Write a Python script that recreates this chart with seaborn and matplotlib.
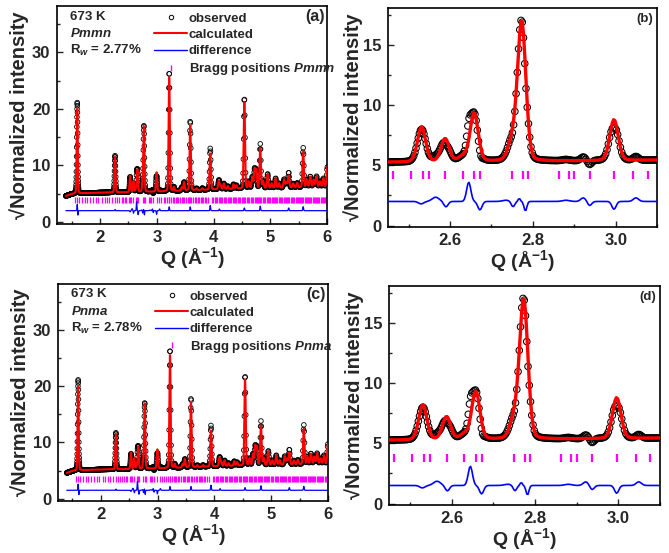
import numpy as np
import matplotlib
matplotlib.use("Agg")
import matplotlib.pyplot as plt
import seaborn as sns
from matplotlib.lines import Line2D
from matplotlib.ticker import MultipleLocator

# ---------------------------------------------------------------------------
# Refinement data at 673 K (square-root of normalized intensity vs Q)
# ---------------------------------------------------------------------------
# background knots
bg_q = [1.40, 1.45, 1.50, 1.60, 2.00, 2.45, 3.10, 3.50, 4.00, 4.50, 5.00, 5.50, 6.00]
bg_y = [4.60, 4.75, 4.95, 5.05, 5.20, 5.25, 5.40, 5.55, 5.75, 5.90, 6.00, 6.10, 6.20]

# reflections of the calculated profile: position and height above background
peak_q = [1.600, 2.265, 2.531, 2.588, 2.630, 2.658, 2.750, 2.773, 2.996, 3.218,
          3.300, 3.440, 3.480, 3.588, 3.700, 3.800, 3.940, 4.090, 4.120, 4.180,
          4.250, 4.350, 4.400, 4.540, 4.620, 4.680, 4.720, 4.750, 4.820, 4.870,
          4.950, 5.020, 5.090, 5.150, 5.240, 5.280, 5.320, 5.400, 5.470, 5.575,
          5.640, 5.700, 5.760, 5.810, 5.870, 5.930, 6.000]
peak_h = [15.0, 6.3, 2.9, 1.9, 0.4, 4.0, 1.6, 11.6, 3.4, 20.4,
          0.7, 0.6, 1.5, 11.6, 0.3, 0.3, 6.4, 1.5, 0.8, 1.0,
          0.5, 0.8, 0.6, 15.6, 1.2, 2.0, 3.4, 3.2, 7.0, 1.2,
          2.5, 0.8, 1.7, 0.8, 1.5, 1.0, 2.2, 0.7, 0.8, 6.3,
          1.3, 1.9, 1.3, 1.9, 1.0, 1.5, 3.5]

# observed minus calculated features
resid_q = [1.600, 1.612, 2.265, 2.530, 2.565, 2.590, 2.645, 2.672, 2.735, 2.752,
           2.767, 2.782, 2.880, 2.922, 2.937, 2.996, 3.049, 3.218, 3.588, 3.940,
           4.100, 4.540, 4.820, 5.320, 5.575]
resid_a = [1.1, -0.8, 0.2, -0.2, 0.35, -0.45, 1.6, -0.7, 0.1, -0.45,
           0.25, -0.8, 0.1, 0.3, -0.35, -0.65, 0.3, 0.7, 0.7, 0.9,
           0.3, 0.5, 0.8, 0.5, 0.7]
resid_w = [0.010, 0.008, 0.012, 0.015, 0.020, 0.012, 0.012, 0.012, 0.020, 0.010,
           0.006, 0.008, 0.020, 0.015, 0.012, 0.012, 0.015, 0.012, 0.012, 0.014,
           0.014, 0.014, 0.014, 0.015, 0.015]

# Bragg reflection positions
bragg_q = [1.56, 1.60, 1.63, 1.69, 1.74, 1.78, 1.83, 1.88, 1.93, 1.97,
           2.03, 2.08, 2.12, 2.16, 2.21, 2.26, 2.30, 2.34, 2.38, 2.41, 2.44,
           2.462, 2.506, 2.534, 2.548, 2.588, 2.630, 2.658, 2.672, 2.750, 2.776,
           2.788, 2.863, 2.887, 2.900, 2.937, 2.997, 3.043, 3.077,
           3.12, 3.15, 3.18, 3.21, 3.22, 3.25, 3.28, 3.30, 3.33, 3.36, 3.38,
           3.41, 3.44, 3.46, 3.48, 3.51, 3.54, 3.56, 3.59, 3.61, 3.64, 3.67,
           3.69, 3.72, 3.74, 3.77, 3.79, 3.82, 3.84, 3.87, 3.90,
           3.97, 3.99, 4.02, 4.04, 4.06, 4.09, 4.11, 4.13, 4.15, 4.18, 4.20,
           4.22, 4.25, 4.27, 4.29, 4.31, 4.34, 4.36, 4.38, 4.40, 4.43, 4.45,
           4.47, 4.50, 4.52, 4.54, 4.56, 4.58, 4.61, 4.63, 4.65, 4.67, 4.69,
           4.72, 4.74, 4.76, 4.78, 4.80, 4.82, 4.84, 4.87, 4.89, 4.91, 4.93,
           4.95, 4.97, 5.00, 5.02, 5.04, 5.06, 5.08, 5.10, 5.12, 5.15, 5.17,
           5.19, 5.21, 5.23, 5.25, 5.27, 5.29, 5.31, 5.33, 5.36, 5.38, 5.40,
           5.42, 5.44, 5.46, 5.48, 5.50, 5.52, 5.54, 5.56, 5.58, 5.60, 5.62,
           5.64, 5.66, 5.68, 5.70, 5.72, 5.74, 5.76, 5.78, 5.80, 5.82, 5.84,
           5.86, 5.88, 5.90, 5.92, 5.94, 5.96, 5.98]

panels = [
    dict(tag="(a)", group="Pmmn", rw="2.77", diff_offset=2.0, zoom=False),
    dict(tag="(b)", group="Pmmn", rw="2.77", diff_offset=2.0, zoom=True),
    dict(tag="(c)", group="Pnma", rw="2.78", diff_offset=1.5, zoom=False),
    dict(tag="(d)", group="Pnma", rw="2.78", diff_offset=1.5, zoom=True),
]

# ---------------------------------------------------------------------------
# profile
# ---------------------------------------------------------------------------
def pseudo_voigt(q, q0, fwhm, eta=0.15):
    x = (q - q0) / (fwhm / 2.0)
    return eta / (1.0 + x ** 2) + (1.0 - eta) * np.exp(-np.log(2.0) * x ** 2)


q = np.geomspace(1.40, 6.0, 1350)
calc = np.interp(q, bg_q, bg_y)
for q0, h in zip(peak_q, peak_h):
    calc = calc + h * pseudo_voigt(q, q0, 0.018 + 0.002 * q0)
resid = np.zeros_like(q)
for q0, a, w in zip(resid_q, resid_a, resid_w):
    resid = resid + a * np.exp(-np.log(2.0) * ((q - q0) / (w / 2.0)) ** 2)
obs = calc + resid

# ---------------------------------------------------------------------------
# style
# ---------------------------------------------------------------------------
sns.set_style("ticks")
plt.rcParams["font.family"] = ["Liberation Sans", "DejaVu Sans"]
plt.rcParams["font.weight"] = "bold"
plt.rcParams["axes.labelweight"] = "bold"
plt.rcParams["mathtext.fontset"] = "custom"
plt.rcParams["mathtext.rm"] = "Liberation Sans:bold"
plt.rcParams["mathtext.bf"] = "Liberation Sans:bold"
plt.rcParams["mathtext.it"] = "Liberation Sans:italic:bold"

fig = plt.figure(figsize=(6.69, 5.53), dpi=100)
rects = [
    [0.0857, 0.595, 0.4036, 0.394],
    [0.580, 0.5895, 0.4021, 0.396],
    [0.0871, 0.0946, 0.4031, 0.392],
    [0.5815, 0.0868, 0.4051, 0.396],
]

for rect, p in zip(rects, panels):
    ax = fig.add_axes(rect)
    zoom = p["zoom"]
    ms = 22 if zoom else 11
    lw_calc = 2.4 if zoom else 1.5
    lw_diff = 1.2 if zoom else 0.9

    sns.scatterplot(x=q, y=obs, ax=ax, marker="o", s=ms, color="black",
                    zorder=2, legend=False)
    pts = ax.collections[-1]
    pts.set_facecolor("none")
    pts.set_edgecolor("black")
    pts.set_linewidth(0.75 if zoom else 0.6)

    sns.lineplot(x=q, y=calc, ax=ax, color="#ff0000", lw=lw_calc,
                 sort=False, estimator=None, zorder=3)
    sns.lineplot(x=q, y=resid + p["diff_offset"], ax=ax, color="#0000ff",
                 lw=lw_diff, sort=False, estimator=None, zorder=3)

    if zoom:
        tick_lo, tick_hi = (3.9, 4.55) if p["tag"] == "(b)" else (3.45, 4.1)
    else:
        tick_lo, tick_hi = (3.4, 4.4) if p["tag"] == "(a)" else (3.0, 4.0)
    ax.vlines(bragg_q, tick_lo, tick_hi, color="#ff00ff",
              lw=1.6 if zoom else 0.9, zorder=2)

    if zoom:
        ax.set_xlim(2.45, 3.10)
        ax.set_ylim(-0.12, 18.05)
        ax.xaxis.set_minor_locator(MultipleLocator(0.1))
        ax.yaxis.set_major_locator(MultipleLocator(5))
        ax.yaxis.set_minor_locator(MultipleLocator(2.5))
        ax.set_xticks([2.6, 2.8, 3.0])
        ax.set_xticklabels(["2.6", "2.8", "3.0"])
        ax.text(0.985, 0.952, p["tag"], transform=ax.transAxes, ha="right",
                va="center", fontsize=9.5, fontweight="bold")
    else:
        ax.set_xlim(1.25, 6.0)
        ax.set_ylim(-0.35, 38.2)
        ax.xaxis.set_major_locator(MultipleLocator(1))
        ax.xaxis.set_minor_locator(MultipleLocator(0.5))
        ax.yaxis.set_major_locator(MultipleLocator(10))
        ax.yaxis.set_minor_locator(MultipleLocator(5))
        ax.text(0.992, 0.952, p["tag"], transform=ax.transAxes, ha="right",
                va="center", fontsize=11.5, fontweight="bold")
        ax.text(0.047, 0.952, "673 K", transform=ax.transAxes, ha="left",
                va="center", fontsize=9.5, fontweight="bold")
        ax.text(0.047, 0.874, "$\\mathit{%s}$" % p["group"], transform=ax.transAxes,
                ha="left", va="center", fontsize=9.5)
        ax.text(0.047, 0.796, "R$_{w}$ = %s%%" % p["rw"], transform=ax.transAxes,
                ha="left", va="center", fontsize=9.5)
        handles = [
            Line2D([], [], marker="o", ls="none", mfc="none", mec="black",
                   ms=3.2, mew=0.7),
            Line2D([], [], color="#ff0000", lw=1.5),
            Line2D([], [], color="#0000ff", lw=1.0),
            Line2D([], [], marker="|", ls="none", color="#ff00ff", ms=5, mew=1.0),
        ]
        labels = ["observed", "calculated", "difference",
                  "Bragg positions $\\mathit{%s}$" % p["group"]]
        ax.legend(handles, labels, loc="upper left", bbox_to_anchor=(0.335, 1.0),
                  frameon=False, fontsize=9.5, handlelength=2.5, handletextpad=0.12,
                  labelspacing=0.3, borderpad=0.5, borderaxespad=0.0)

    ax.tick_params(axis="both", which="both", direction="in", top=False,
                   right=False, labelsize=12, width=1.0)
    ax.tick_params(axis="both", which="major", length=4)
    ax.tick_params(axis="both", which="minor", length=2.5)
    ax.tick_params(axis="x", which="major", pad=4.5)
    ax.tick_params(axis="y", which="major", pad=5)
    for lab in ax.get_xticklabels() + ax.get_yticklabels():
        lab.set_fontweight("bold")
    for sp in ax.spines.values():
        sp.set_linewidth(1.2)
        sp.set_color("black")

    ax.set_xlabel("Q (Å$^{-1}$)", fontsize=14, fontweight="bold", labelpad=0)
    ax.set_ylabel("√Normalized intensity", fontsize=14.5, fontweight="bold",
                  labelpad=(0 if zoom else 2))

fig.savefig("out.png", dpi=100)
